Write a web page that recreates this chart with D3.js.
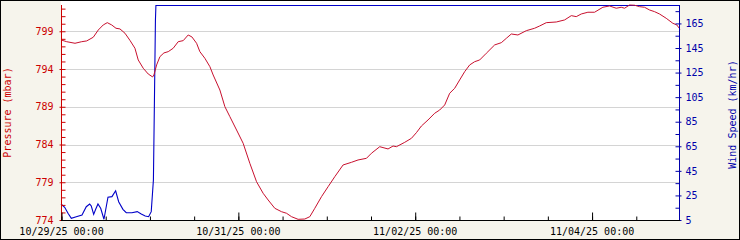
<!DOCTYPE html>
<html>
<head>
<meta charset="utf-8">
<script src="https://cdn.jsdelivr.net/npm/d3@7"></script>
<style>
  html, body { margin: 0; padding: 0; background: #f6f4ec; }
  svg { display: block; }
  text { font-family: "DejaVu Sans Mono", "Liberation Mono", monospace; font-size: 10px; }
</style>
</head>
<body>
<svg id="chart" width="740" height="240"></svg>
<script>
// ---------- DATA ----------
const startLabel = "10/29/25 00:00";
const endLabel = "11/05/25 00:00";
const xTickLabels = ["10/29/25 00:00", "10/31/25 00:00", "11/02/25 00:00", "11/04/25 00:00"];
const pressureTicks = [774, 779, 784, 789, 794, 799];
const windTicks = [5, 25, 45, 65, 85, 105, 125, 145, 165];
const pressureTitle = "Pressure (mbar)";
const windTitle = "Wind Speed (km/hr)";

// hours since start
const pressureHours = [0,1.55,3.8,5.61,6.97,8.76,10.12,11.47,12.56,13.75,14.92,16.0,17.36,18.71,20.07,20.96,22.32,23.67,24.87,25.22,25.95,26.85,27.93,29.1,30.45,31.81,33.17,34.52,35.53,36.8,37.69,39.05,40.41,41.3,43.12,44.48,45.83,47.65,49.44,51.25,53.07,54.86,56.22,58.03,59.85,61.21,62.56,64.35,66.17,67.53,68.88,70.7,72.49,74.31,76.56,78.83,80.62,82.9,84.26,86.51,88.76,90.12,91.04,93.29,95.11,96.46,97.82,99.61,101.42,102.78,104.14,105.49,106.85,108.2,109.56,110.92,112.27,113.63,115.44,117.7,119.51,120.87,122.22,124.01,126.29,128.54,129.9,131.71,134.43,136.68,138.5,139.85,141.21,143.0,144.81,147.07,148.88,150.7,152.05,152.95,154.31,155.66,157.02,158.37,159.73,161.09,162.44,164.26,166.05,167.13,168];
const pressureValues = [797.85,797.62,797.41,797.62,797.72,798.21,799.17,799.84,800.14,799.84,799.4,799.31,798.74,797.8,796.75,795.2,794.1,793.34,792.95,793.21,794.54,795.64,796.13,796.3,796.75,797.62,797.76,798.51,798.25,797.41,796.3,795.42,794.31,793.21,791.22,789.01,787.69,785.92,784.16,781.51,779.07,777.54,776.65,775.55,775.1,774.89,774.44,774.09,774.13,774.44,775.55,777.09,778.41,779.74,781.29,781.64,781.95,782.17,782.84,783.71,783.41,783.8,783.71,784.29,784.82,785.57,786.45,787.25,788.14,788.57,789.24,790.79,791.45,792.55,793.65,794.54,794.97,795.2,796.09,797.19,797.49,798.07,798.64,798.51,799.08,799.4,799.7,800.14,800.23,800.5,801.07,800.94,801.29,801.52,801.52,802.18,802.35,802.05,802.18,802.05,802.48,802.45,802.26,802.18,801.82,801.6,801.29,800.72,800.06,799.84,799.27];

const windHours = [0,1.0,1.9,2.8,4.15,5.7,6.86,7.78,8.22,8.87,9.41,10.03,10.77,11.66,12.75,13.83,14.83,15.65,16.81,17.71,19.25,20.69,21.78,22.86,23.78,24.49,25.08,25.36,25.63,25.76,168];
const windValues = [18.0,15.3,10.5,6.4,7.7,9.1,15.8,18.0,16.4,9.6,13.7,18.0,14.5,5.6,23.5,24.0,28.8,19.9,13.7,10.9,10.9,11.8,9.9,8.3,7.7,11.8,37.6,102.7,167.8,179.6,179.6];

const pressureDomain = [774, 802.48];
const windDomain = [5, 180];

// ---------- DRAW ----------
const W = 740, H = 240;
const mLeft = 61, mRight = 680, mTop = 5, mBottom = 220;
const parse = d3.utcParse("%m/%d/%y %H:%M");
const fmt = d3.utcFormat("%m/%d/%y %H:%M");
const t0 = parse(startLabel), t1 = parse(endLabel);
const HOUR = 3600 * 1000;

const x = d3.scaleUtc().domain([t0, t1]).range([mLeft, mRight]);
const yP = d3.scaleLinear().domain(pressureDomain).range([mBottom, mTop]);
const yW = d3.scaleLinear().domain(windDomain).range([mBottom, mTop]);

const red = "#cc0000", redLine = "#c8102e", blue = "#0000aa", blueLine = "#0000c8";

const svg = d3.select("#chart");
svg.append("rect").attr("x", 0).attr("y", 0).attr("width", W).attr("height", H).attr("fill", "#f6f4ec");
svg.append("rect").attr("x", mLeft).attr("y", 1).attr("width", mRight - mLeft).attr("height", mBottom - 1).attr("fill", "#ffffff");

// gridlines
svg.append("g").selectAll("line").data(pressureTicks.filter(d => d > pressureDomain[0]))
  .join("line")
  .attr("x1", mLeft).attr("x2", mRight)
  .attr("y1", d => Math.round(yP(d)) + 0.5).attr("y2", d => Math.round(yP(d)) + 0.5)
  .attr("stroke", "#d4d4d4").attr("stroke-width", 1);

// wind line
const windData = windHours.map((h, i) => ({ t: new Date(t0.getTime() + h * HOUR), v: windValues[i] }));
svg.append("path").datum(windData)
  .attr("fill", "none").attr("stroke", blueLine).attr("stroke-width", 1.1)
  .attr("d", d3.line().x(d => x(d.t)).y(d => yW(d.v)));

// pressure line
const presData = pressureHours.map((h, i) => ({ t: new Date(t0.getTime() + h * HOUR), v: pressureValues[i] }));
svg.append("path").datum(presData)
  .attr("fill", "none").attr("stroke", redLine).attr("stroke-width", 1)
  .attr("d", d3.line().x(d => x(d.t)).y(d => yP(d.v)));

// left axis (pressure)
const pMinor = d3.range(774, 803, 1);
const gLm = svg.append("g").attr("transform", `translate(${mLeft + 0.5},0)`)
  .call(d3.axisRight(yP).tickValues(pMinor).tickSize(4).tickFormat(""));
const gL = svg.append("g").attr("transform", `translate(${mLeft + 0.5},0)`)
  .call(d3.axisLeft(yP).tickValues(pressureTicks).tickSize(2).tickPadding(6).tickFormat(d3.format("d")));
[gLm, gL].forEach(g => {
  g.select(".domain").remove();
  g.selectAll("line").attr("stroke", red);
  g.selectAll("text").attr("fill", red).style("font-size", "10px").style("font-family", "DejaVu Sans Mono");
});
svg.append("line").attr("x1", mLeft + 0.5).attr("x2", mLeft + 0.5).attr("y1", mTop).attr("y2", mBottom)
  .attr("stroke", red);

// right axis (wind)
const wMinor = d3.range(5, 180, 10);
const gRm = svg.append("g").attr("transform", `translate(${mRight - 0.5},0)`)
  .call(d3.axisLeft(yW).tickValues(wMinor).tickSize(4).tickFormat(""));
const gR = svg.append("g").attr("transform", `translate(${mRight - 0.5},0)`)
  .call(d3.axisRight(yW).tickValues(windTicks).tickSize(2).tickPadding(4).tickFormat(d3.format("d")));
[gRm, gR].forEach(g => {
  g.select(".domain").remove();
  g.selectAll("line").attr("stroke", blue);
  g.selectAll("text").attr("fill", blue).style("font-size", "10px").style("font-family", "DejaVu Sans Mono");
});
svg.append("line").attr("x1", mRight - 0.5).attr("x2", mRight - 0.5).attr("y1", mTop).attr("y2", mBottom + 0.5)
  .attr("stroke", blue);

// bottom axis
const xMajor = xTickLabels.map(parse);
const xMinor = d3.utcHour.every(12).range(t0, t1);
const gBm = svg.append("g").attr("transform", `translate(0,${mBottom + 0.5})`)
  .call(d3.axisTop(x).tickValues(xMinor).tickSize(4).tickFormat(""));
const gBM = svg.append("g").attr("transform", `translate(0,${mBottom + 0.5})`)
  .call(d3.axisTop(x).tickValues(xMajor).tickSize(8).tickFormat(""));
const gBl = svg.append("g").attr("transform", `translate(0,${mBottom})`)
  .call(d3.axisBottom(x).tickValues(xMajor).tickSize(0).tickPadding(8).tickFormat(fmt));
[gBm, gBM, gBl].forEach(g => {
  g.select(".domain").remove();
  g.selectAll("line").attr("stroke", "#000").attr("transform", "translate(0.5,0)");
  g.selectAll("text").attr("fill", "#000").style("font-size", "10px").style("font-family", "DejaVu Sans Mono");
});
svg.append("line").attr("x1", mLeft).attr("x2", mRight).attr("y1", mBottom + 0.5).attr("y2", mBottom + 0.5)
  .attr("stroke", "#000");

// axis titles
svg.append("text").attr("transform", `translate(11,${(mTop + mBottom) / 2}) rotate(-90)`)
  .attr("text-anchor", "middle").attr("fill", red).text(pressureTitle);
svg.append("text").attr("transform", `translate(736,${(mTop + mBottom) / 2 + 2}) rotate(-90)`)
  .attr("text-anchor", "middle").attr("fill", blue).text(windTitle);

// outer border
svg.append("rect").attr("x", 0.5).attr("y", 0.5).attr("width", W - 1).attr("height", H - 1)
  .attr("fill", "none").attr("stroke", "#000");
</script>
</body>
</html>
